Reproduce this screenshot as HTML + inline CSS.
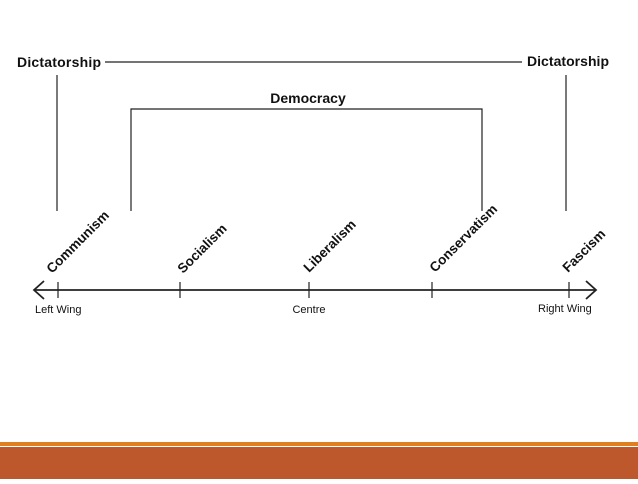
<!DOCTYPE html>
<html><head><style>
body{margin:0;width:638px;height:479px;background:#fff;overflow:hidden}
text{font-family:"Liberation Sans",sans-serif;fill:#111}
</style></head><body>
<svg width="638" height="479" viewBox="0 0 638 479" xmlns="http://www.w3.org/2000/svg">
<g stroke="#222" stroke-width="1.2" fill="none">
<line x1="105" y1="62" x2="522" y2="62"/>
<line x1="57" y1="75" x2="57" y2="211"/>
<line x1="566" y1="75" x2="566" y2="211"/>
<polyline points="131,211 131,109 482,109 482,211"/>
<line x1="34" y1="290" x2="596" y2="290" stroke-width="1.8"/>
<polyline points="44,281 34,290 44,299" stroke-width="1.8"/>
<polyline points="586,281 596,290 586,299" stroke-width="1.8"/>
<line x1="58" y1="282" x2="58" y2="298"/>
<line x1="180" y1="282" x2="180" y2="298"/>
<line x1="309" y1="282" x2="309" y2="298"/>
<line x1="432" y1="282" x2="432" y2="298"/>
<line x1="569" y1="282" x2="569" y2="298"/>
</g>
<text x="17" y="67" font-size="14" font-weight="bold" textLength="84">Dictatorship</text>
<text x="527" y="66" font-size="14" font-weight="bold" textLength="82">Dictatorship</text>
<text x="308" y="103" font-size="14" font-weight="bold" text-anchor="middle">Democracy</text>
<g font-size="13.5" font-weight="bold">
<text transform="translate(52,274) rotate(-45)">Communism</text>
<text transform="translate(183,274) rotate(-45)">Socialism</text>
<text transform="translate(309,273) rotate(-45)">Liberalism</text>
<text transform="translate(435,273) rotate(-45)">Conservatism</text>
<text transform="translate(568,273) rotate(-45)">Fascism</text>
</g>
<g font-size="11">
<text x="35" y="313">Left Wing</text>
<text x="309" y="313" text-anchor="middle">Centre</text>
<text x="538" y="312">Right Wing</text>
</g>
<rect x="0" y="442" width="638" height="4" fill="#e07f1f"/>
<rect x="0" y="447" width="638" height="32" fill="#bd582c"/>
</svg>
</body></html>
